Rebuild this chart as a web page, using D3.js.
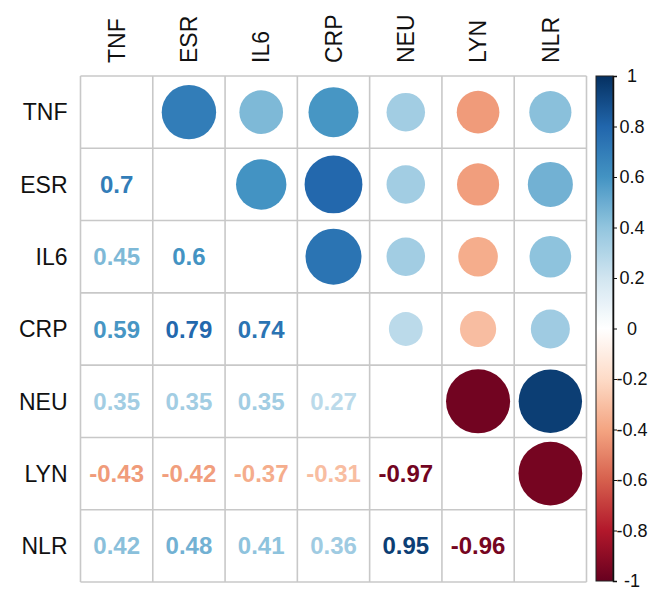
<!DOCTYPE html>
<html>
<head>
<meta charset="utf-8">
<script src="https://cdn.jsdelivr.net/npm/d3@7"></script>
<style>
  body { margin: 0; background: #fff; }
  text { font-family: "Liberation Sans", Arial, sans-serif; }
</style>
</head>
<body>
<div id="chart"></div>
<script>
// variable names
const vars = ["TNF", "ESR", "IL6", "CRP", "NEU", "LYN", "NLR"];

// lower triangle of the correlation matrix, row by row
const lower = [
    [],
    [0.7],
    [0.45, 0.6],
    [0.59, 0.79, 0.74],
    [0.35, 0.35, 0.35, 0.27],
    [-0.43, -0.42, -0.37, -0.31, -0.97],
    [0.42, 0.48, 0.41, 0.36, 0.95, -0.96]
];

// colour legend ticks
const legendTicks = [1, 0.8, 0.6, 0.4, 0.2, 0, -0.2, -0.4, -0.6, -0.8, -1];

// RdBu palette used by corrplot
const palette = ["#67001F", "#B2182B", "#D6604D", "#F4A582", "#FDDBC7", "#FFFFFF",
                 "#D1E5F0", "#92C5DE", "#4393C3", "#2166AC", "#053061"];

const W = 653, H = 590;
const grid = { left: 80.5, top: 76, size: 506 };

const svg = d3.select("#chart").append("svg")
    .attr("width", W)
    .attr("height", H);

// full symmetric matrix from lower triangle
const corr = (i, j) => i > j ? lower[i][j] : lower[j][i];
// plain hyphen for negatives, like R prints them
const fmt = v => d3.format("~g")(v).replace("\u2212", "-");

const x = d3.scaleBand().domain(vars).range([grid.left, grid.left + grid.size]);
const y = d3.scaleBand().domain(vars).range([grid.top, grid.top + grid.size]);
const color = d3.scaleLinear()
    .domain(d3.range(palette.length).map(i => -1 + 2 * i / (palette.length - 1)))
    .range(palette)
    .interpolate(d3.interpolateRgb);

const cells = [];
vars.forEach((rv, i) => vars.forEach((cv, j) => {
    cells.push({ row: rv, col: cv, i, j, r: i === j ? null : corr(i, j) });
}));

// circles in the upper triangle
svg.append("g").selectAll("circle")
    .data(cells.filter(d => d.j > d.i))
    .join("circle")
    .attr("cx", d => x(d.col) + x.bandwidth() / 2)
    .attr("cy", d => y(d.row) + y.bandwidth() / 2)
    .attr("r", d => 0.9 * Math.sqrt(Math.abs(d.r)) * x.bandwidth() / 2)
    .attr("fill", d => color(d.r));

// numbers in the lower triangle
svg.append("g").selectAll("text")
    .data(cells.filter(d => d.j < d.i))
    .join("text")
    .attr("x", d => x(d.col) + x.bandwidth() / 2)
    .attr("y", d => y(d.row) + y.bandwidth() / 2)
    .attr("dy", "0.36em")
    .attr("text-anchor", "middle")
    .style("font-size", "24px")
    .style("font-weight", "bold")
    .attr("fill", d => color(d.r))
    .text(d => fmt(d.r));

// grid lines
const gridG = svg.append("g")
    .attr("stroke", "#c8c8c8")
    .attr("stroke-width", 1.6);
d3.range(vars.length + 1).forEach(k => {
    const p = grid.left + k * x.step();
    gridG.append("line").attr("x1", p).attr("x2", p)
        .attr("y1", grid.top).attr("y2", grid.top + grid.size);
    const q = grid.top + k * y.step();
    gridG.append("line").attr("y1", q).attr("y2", q)
        .attr("x1", grid.left).attr("x2", grid.left + grid.size);
});

// row labels
svg.append("g").selectAll("text")
    .data(vars)
    .join("text")
    .attr("x", grid.left - 13)
    .attr("y", d => y(d) + y.bandwidth() / 2)
    .attr("dy", "0.36em")
    .attr("text-anchor", "end")
    .style("font-size", "23px")
    .attr("fill", "#111")
    .text(d => d);

// column labels (rotated)
svg.append("g").selectAll("text")
    .data(vars)
    .join("text")
    .attr("transform", d => `translate(${x(d) + x.bandwidth() / 2},${grid.top - 13}) rotate(-90)`)
    .attr("dy", "0.36em")
    .attr("text-anchor", "start")
    .style("font-size", "23px")
    .attr("fill", "#111")
    .text(d => d);

// colour legend
const bar = { x: 596, w: 17, top: 76, bottom: 581 };
const ly = d3.scaleLinear().domain([1, -1]).range([bar.top, bar.bottom]);

const defs = svg.append("defs");
const grad = defs.append("linearGradient")
    .attr("id", "cbar")
    .attr("x1", 0).attr("x2", 0).attr("y1", 0).attr("y2", 1);
grad.selectAll("stop")
    .data(d3.range(0, 41))
    .join("stop")
    .attr("offset", k => k / 40)
    .attr("stop-color", k => color(1 - 2 * k / 40));

svg.append("rect")
    .attr("x", bar.x)
    .attr("y", bar.top)
    .attr("width", bar.w)
    .attr("height", bar.bottom - bar.top)
    .attr("fill", "url(#cbar)")
    .attr("stroke", "#222")
    .attr("stroke-width", 1);

const axis = d3.axisRight(ly)
    .tickValues(legendTicks)
    .tickSize(4)
    .tickFormat(fmt);

const axG = svg.append("g")
    .attr("transform", `translate(${bar.x + bar.w},0)`)
    .call(axis);
axG.select(".domain").attr("stroke", "#111").attr("stroke-width", 1.5);
axG.selectAll(".tick line").attr("stroke", "#111");
axG.selectAll(".tick text")
    .attr("x", 19)
    .attr("text-anchor", "middle")
    .attr("fill", "#111")
    .style("font-family", "'Liberation Sans', Arial, sans-serif")
    .style("font-size", "18px");
</script>
</body>
</html>
